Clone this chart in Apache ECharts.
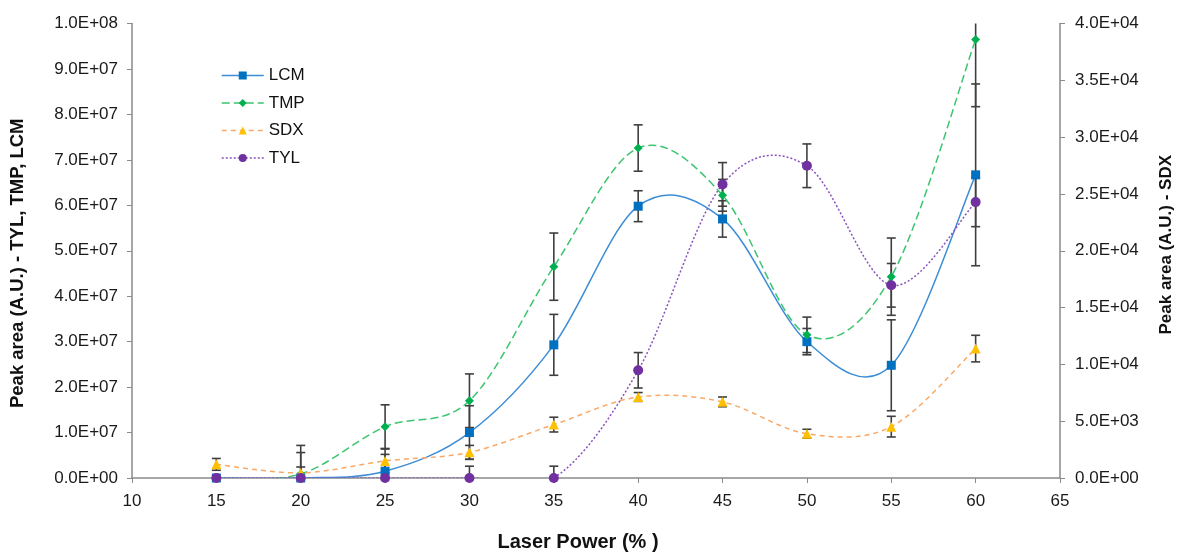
<!DOCTYPE html>
<html><head><meta charset="utf-8">
<script src="https://cdn.jsdelivr.net/npm/echarts@6/dist/echarts.min.js"></script>
<style>html,body{margin:0;padding:0;background:#fff;overflow:hidden}#c{width:1183px;height:557px}</style>
</head><body><div id="c"></div>
<script>
const power = [15, 20, 25, 30, 35, 40, 45, 50, 55, 60];
const lcm = [0, 0, 1.5e6, 1.0e7, 2.93e7, 5.98e7, 5.7e7, 3.0e7, 2.48e7, 6.67e7];
const lcmErr = [0, 5.6e6, 3.7e6, 5.9e6, 6.7e6, 3.4e6, 4.0e6, 2.9e6, 1.0e7, 2.0e7];
const tmp = [0, 0.87e6, 1.13e7, 1.7e7, 4.65e7, 7.26e7, 6.22e7, 3.15e7, 4.43e7, 9.65e7];
const tmpErr = [0, 6.3e6, 4.8e6, 5.9e6, 7.4e6, 5.1e6, 3.5e6, 3.9e6, 8.5e6, 1.48e7];
const sdx = [1200, 450, 1500, 2260, 4700, 7130, 6700, 3900, 4520, 11390];
const sdxErr = [520, 520, 1050, 610, 650, 390, 430, 390, 910, 1170];
const tyl = [0, 0, 0, 0, 0, 2.37e7, 6.46e7, 6.87e7, 4.24e7, 6.07e7];
const tylErr = [0, 0, 0, 2.6e6, 2.6e6, 3.9e6, 4.8e6, 4.8e6, 4.8e6, 5.4e6];

const leftMax = 1e8, rightMax = 4e4;

function fmt(v) {
  if (v === 0) return '0.0E+00';
  const e = Math.floor(Math.log10(v) + 1e-9);
  const m = v / Math.pow(10, e);
  return m.toFixed(1) + 'E+' + String(e).padStart(2, '0');
}

function errData(vals, errs, max) {
  return power.map((p, i) => {
    const lo = vals[i] - errs[i], hi = vals[i] + errs[i];
    return [p, Math.max(0, lo), Math.min(max, hi), lo >= 0 ? 1 : 0, hi <= max ? 1 : 0];
  });
}

function renderErr(params, api) {
  const x = api.value(0);
  const lo = api.coord([x, api.value(1)]);
  const hi = api.coord([x, api.value(2)]);
  const w = 4.5;
  const style = { stroke: '#3f3f3f', lineWidth: 1.6 };
  const children = [{ type: 'line', shape: { x1: lo[0], y1: lo[1], x2: hi[0], y2: hi[1] }, style }];
  const vis = Math.abs(lo[1] - hi[1]) > 0.5;
  if (api.value(4) && vis) children.push({ type: 'line', shape: { x1: hi[0] - w, y1: hi[1], x2: hi[0] + w, y2: hi[1] }, style });
  if (api.value(3) && vis) children.push({ type: 'line', shape: { x1: lo[0] - w, y1: lo[1], x2: lo[0] + w, y2: lo[1] }, style });
  return { type: 'group', children };
}

function errSeries(vals, errs, yIdx, max) {
  return {
    type: 'custom', yAxisIndex: yIdx, z: 1, silent: true,
    renderItem: renderErr, data: errData(vals, errs, max),
    encode: { x: 0, y: [1, 2] }
  };
}

// Excel-like smoothed curve (Catmull-Rom through pixel coordinates from the axes)
function curveSeries(vals, yIdx, color, width, dash) {
  return {
    type: 'custom', yAxisIndex: yIdx, z: 2, silent: true,
    data: power.map((p, i) => [p, vals[i]]),
    encode: { x: 0, y: 1 },
    renderItem: function (params, api) {
      if (params.dataIndex !== 0) return null;
      const pts = power.map((p, i) => api.coord([p, vals[i]]));
      const n = pts.length;
      let d = 'M' + pts[0][0] + ' ' + pts[0][1];
      for (let i = 0; i < n - 1; i++) {
        const p0 = pts[Math.max(0, i - 1)], p1 = pts[i], p2 = pts[i + 1], p3 = pts[Math.min(n - 1, i + 2)];
        const c1x = p1[0] + (p2[0] - p0[0]) / 6, c1y = p1[1] + (p2[1] - p0[1]) / 6;
        const c2x = p2[0] - (p3[0] - p1[0]) / 6, c2y = p2[1] - (p3[1] - p1[1]) / 6;
        d += ' C' + c1x + ' ' + c1y + ' ' + c2x + ' ' + c2y + ' ' + p2[0] + ' ' + p2[1];
      }
      const cs = params.coordSys;
      return {
        type: 'path',
        shape: { pathData: d },
        style: { fill: 'none', stroke: color, lineWidth: width, lineDash: dash },
        clipPath: { type: 'rect', shape: { x: cs.x, y: cs.y - 1, width: cs.width, height: cs.height + 1 } }
      };
    }
  };
}

const pairs = a => power.map((p, i) => [p, a[i]]);
const FF = 'Liberation Sans, Arial, sans-serif';
const labelFont = { fontFamily: FF, fontSize: 17, color: '#1a1a1a' };
const titleFont = { fontFamily: FF, fontWeight: 'bold', color: '#111' };
const axisLine = { lineStyle: { color: '#8a8a8a', width: 1.5 } };
const tick = { show: true, length: 5, lineStyle: { color: '#8a8a8a' } };

const styles = {
  LCM: { color: '#3C8DD6', width: 1.5, dash: null },
  TMP: { color: '#3CC46F', width: 1.5, dash: [8, 4] },
  SDX: { color: '#F9A865', width: 1.5, dash: [5, 4] },
  TYL: { color: '#8A52BE', width: 1.5, dash: [2, 2] }
};
const markerSeries = (name, vals, yIdx, symbol, size, color) => ({
  name, type: 'line', yAxisIndex: yIdx, z: 3, data: pairs(vals),
  symbol, symbolSize: size, itemStyle: { color },
  lineStyle: { opacity: 0, width: 0 }
});
const legendItem = name => ({
  name,
  lineStyle: { opacity: 1, color: styles[name].color, width: 1.5, type: styles[name].dash || 'solid' }
});

const chart = echarts.init(document.getElementById('c'), null, { renderer: 'canvas' });
chart.setOption({
  animation: false,
  grid: { left: 132, right: 122, top: 23.5, bottom: 73.5, containLabel: false },
  legend: {
    orient: 'vertical', left: 216, top: 62, itemGap: 10.5, itemWidth: 42, itemHeight: 10,
    textStyle: { fontFamily: FF, fontSize: 17, color: '#111' },
    data: ['LCM', 'TMP', 'SDX', 'TYL'].map(legendItem)
  },
  xAxis: {
    type: 'value', min: 10, max: 65, interval: 5,
    name: 'Laser Power (% )', nameLocation: 'middle', nameGap: 54,
    nameTextStyle: Object.assign({}, titleFont, { fontSize: 20, padding: [0, 36, 0, 0] }),
    axisLine, axisTick: tick,
    axisLabel: Object.assign({ margin: 15 }, labelFont), splitLine: { show: false }
  },
  yAxis: [
    {
      type: 'value', min: 0, max: leftMax, interval: 1e7, position: 'left',
      name: 'Peak area (A.U.) - TYL, TMP, LCM', nameLocation: 'middle', nameGap: 105,
      nameTextStyle: Object.assign({}, titleFont, { fontSize: 18.5, padding: [0, 25, 0, 0] }),
      axisLine: Object.assign({ show: true }, axisLine), axisTick: tick,
      axisLabel: Object.assign({ margin: 14, formatter: fmt }, labelFont), splitLine: { show: false }
    },
    {
      type: 'value', min: 0, max: rightMax, interval: 5e3, position: 'right',
      name: 'Peak area (A.U.) - SDX', nameLocation: 'middle', nameGap: 98, nameRotate: 90,
      nameTextStyle: Object.assign({}, titleFont, { fontSize: 17, padding: [0, 0, 0, 12] }),
      axisLine: Object.assign({ show: true }, axisLine), axisTick: tick,
      axisLabel: Object.assign({ margin: 15, formatter: fmt }, labelFont), splitLine: { show: false }
    }
  ],
  series: [
    errSeries(lcm, lcmErr, 0, leftMax),
    errSeries(tmp, tmpErr, 0, leftMax),
    errSeries(sdx, sdxErr, 1, rightMax),
    errSeries(tyl, tylErr, 0, leftMax),
    curveSeries(lcm, 0, styles.LCM.color, styles.LCM.width, styles.LCM.dash),
    curveSeries(tmp, 0, styles.TMP.color, styles.TMP.width, styles.TMP.dash),
    curveSeries(sdx, 1, styles.SDX.color, styles.SDX.width, styles.SDX.dash),
    curveSeries(tyl, 0, styles.TYL.color, styles.TYL.width, styles.TYL.dash),
    markerSeries('LCM', lcm, 0, 'rect', 9, '#0070C0'),
    markerSeries('TMP', tmp, 0, 'diamond', 9, '#00B050'),
    markerSeries('SDX', sdx, 1, 'triangle', 10, '#FFC000'),
    markerSeries('TYL', tyl, 0, 'circle', 10, '#7030A0')
  ]
});
</script></body></html>
